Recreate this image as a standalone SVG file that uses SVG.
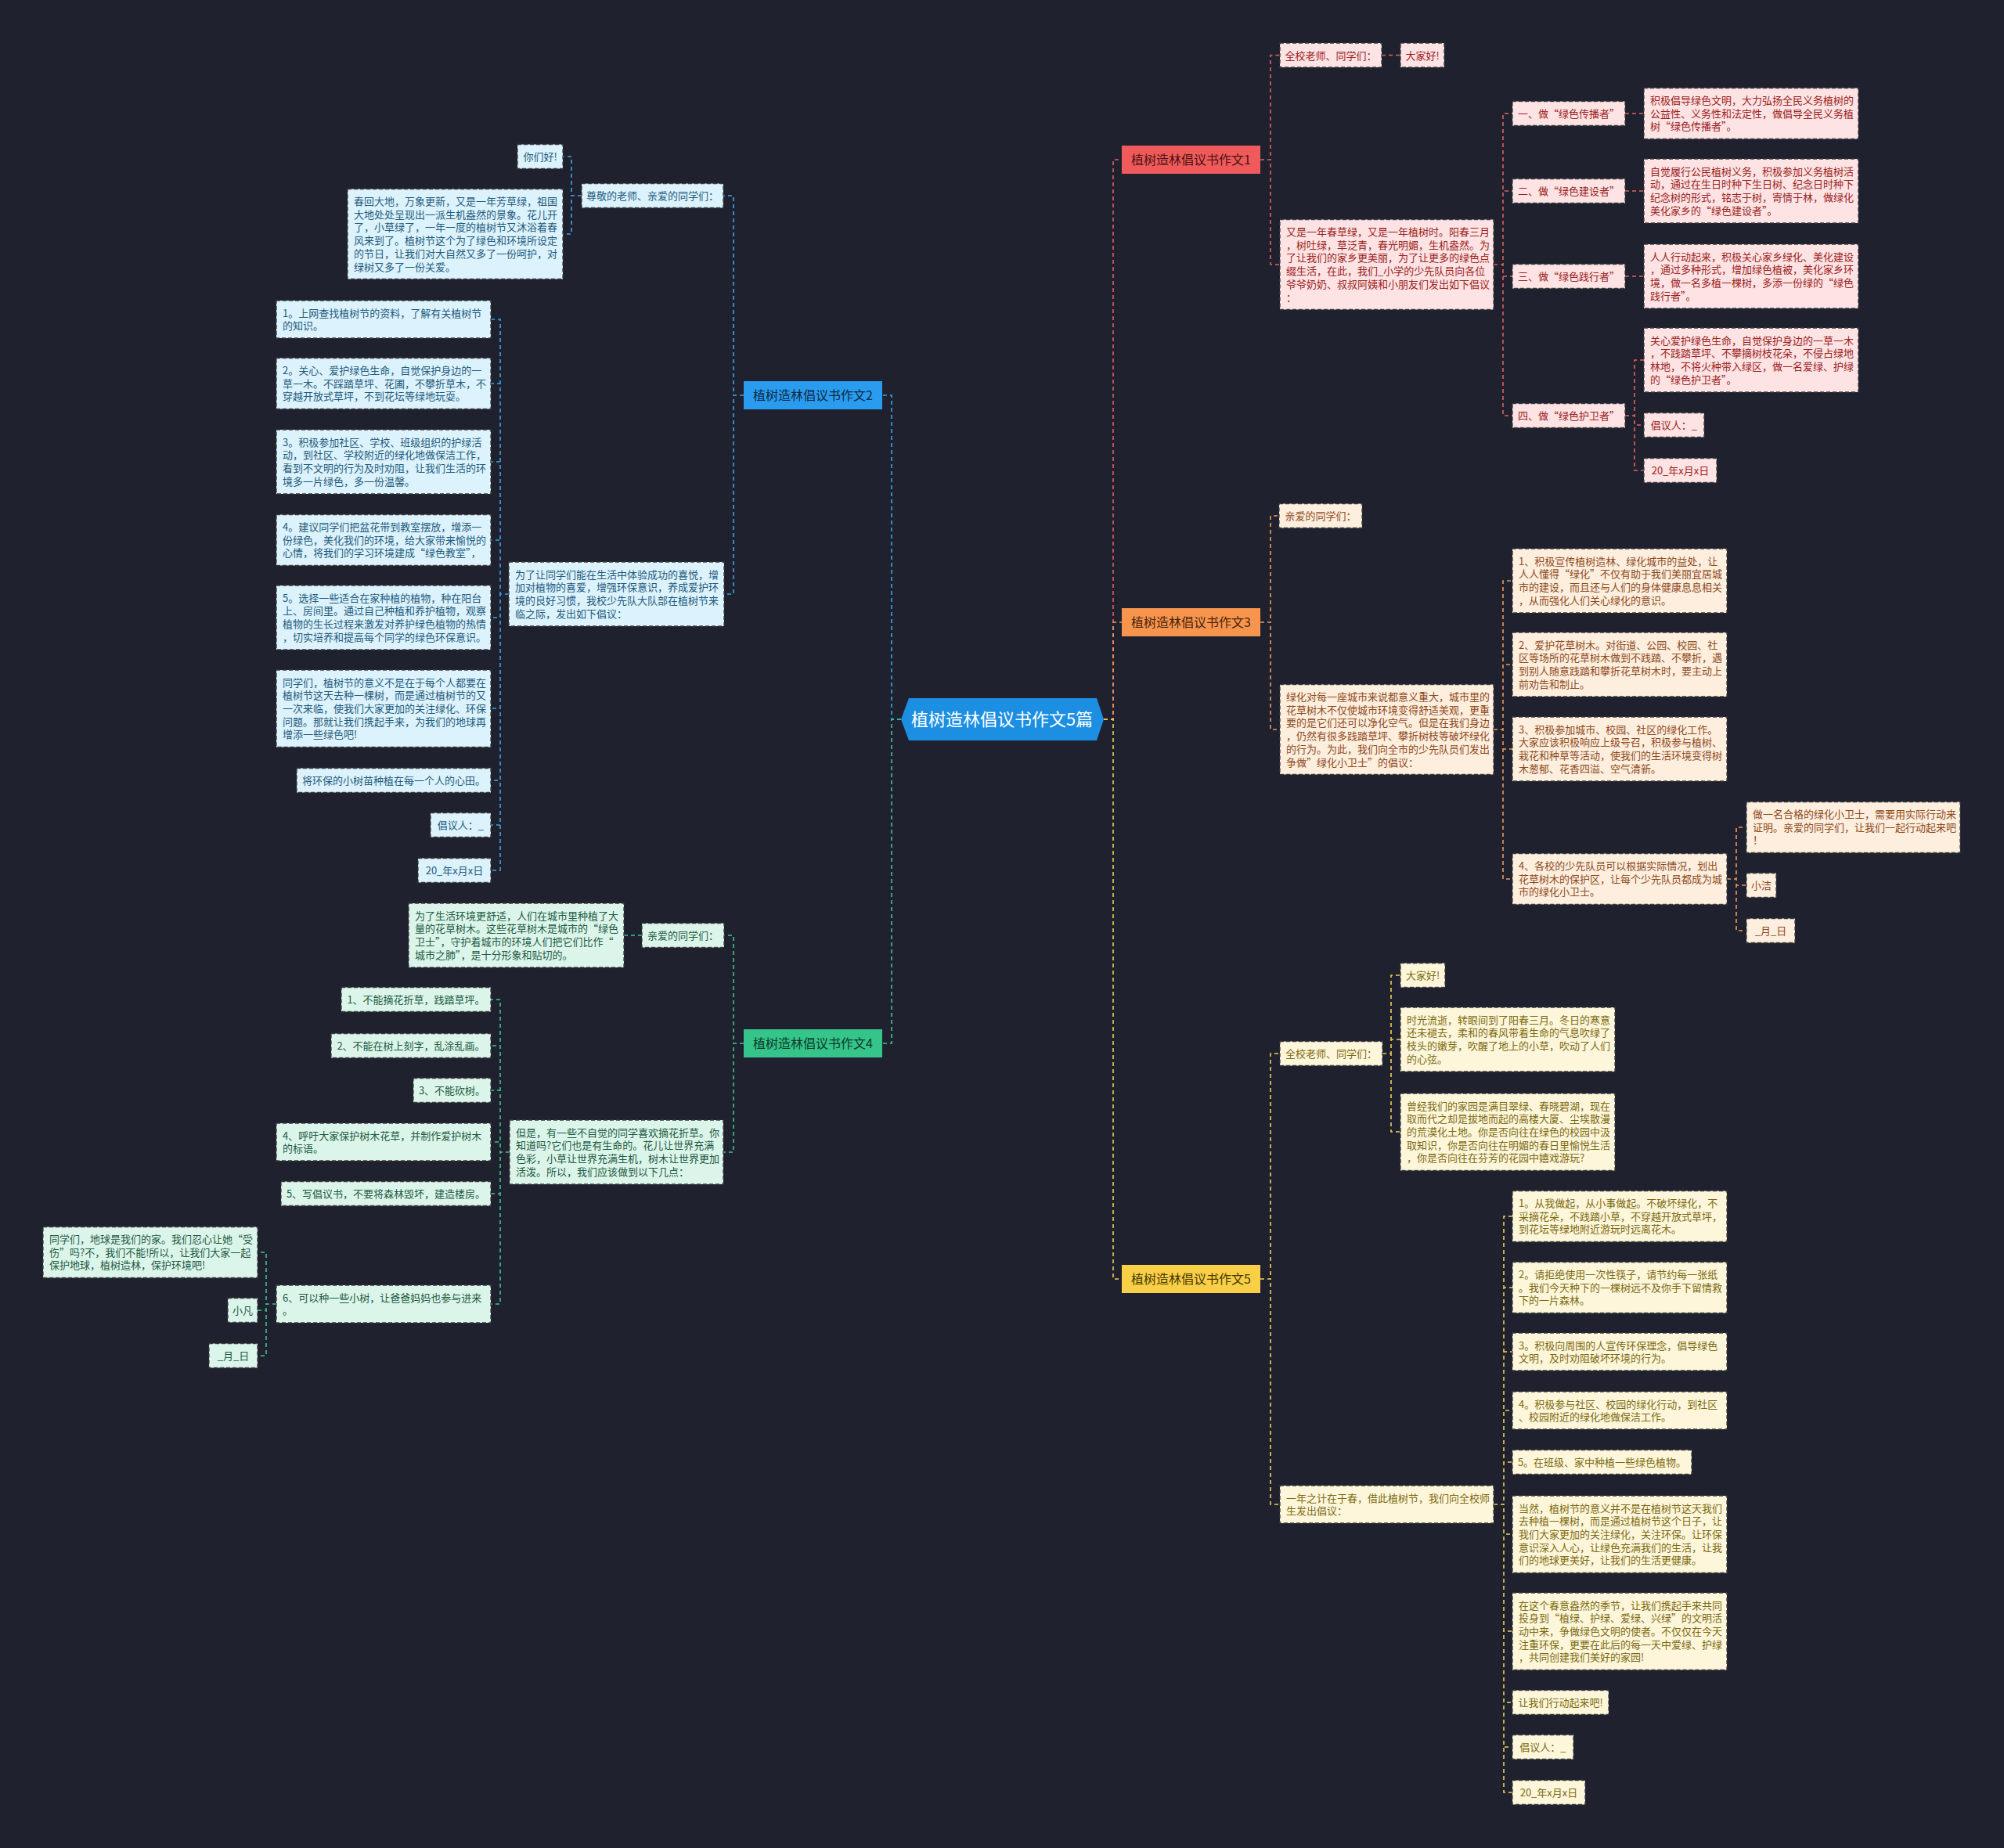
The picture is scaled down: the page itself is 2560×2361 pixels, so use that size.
<svg xmlns="http://www.w3.org/2000/svg" width="2560" height="2361" viewBox="0 0 2560 2361">
<style>
text{font-family:"Noto Sans CJK SC","Noto Sans",sans-serif;font-size:13px}
.bx{stroke:#3a3a3a;stroke-width:1.3;stroke-dasharray:5 3}
.f1{fill:#fde3e3}.t1{fill:#9b2222}
.f3{fill:#fdeede}.t3{fill:#8e4a1c}
.f5{fill:#fdf6da}.t5{fill:#7c6a12}
.f2{fill:#dcf2fc}.t2{fill:#1f5b7c}
.f4{fill:#dcf5ea}.t4{fill:#1d5a42}
.m{text-anchor:middle}
.br{font-size:16px;text-anchor:middle}
.cn path{fill:none;stroke-width:1.6;stroke-dasharray:5 4}
.c1{stroke:#e0605e}.c3{stroke:#f0985a}.c5{stroke:#f0cf55}.c2{stroke:#3ba3e6}.c4{stroke:#3cc48f}
</style>
<rect width="2560" height="2361" fill="#1f222e"/>
<g class="cn" id="connectors">
<path class="c1" d="M1410,919H1422V204H1433"/>
<path class="c1" d="M1610,204H1623V70.5H1635M1610,204H1623V338H1635M1765,70.5H1789"/>
<path class="c1" d="M1908,338H1920V145H1932M1908,338H1920V244H1932M1908,338H1920V353H1932M1908,338H1920V531H1932"/>
<path class="c1" d="M2076,145H2100M2076,244H2100M2076,353H2100M2076,531H2088V460H2100M2076,531H2088V543H2100M2076,531H2088V601H2100"/>
<path class="c3" d="M1410,919H1422V795H1433"/>
<path class="c3" d="M1610,795H1623V659H1634M1610,795H1623V932H1635"/>
<path class="c3" d="M1908,932H1920V742H1932M1908,932H1920V849H1932M1908,932H1920V957H1932M1908,932H1920V1123H1932"/>
<path class="c3" d="M2206,1123H2218V1057H2231M2206,1123H2218V1131H2231M2206,1123H2218V1189H2231"/>
<path class="c5" d="M1410,919H1422V1634H1433"/>
<path class="c5" d="M1610,1634H1623V1346H1635M1610,1634H1623V1922H1635"/>
<path class="c5" d="M1766,1346H1777V1246H1789M1766,1346H1777V1328H1789M1766,1346H1777V1446H1789"/>
<path class="c5" d="M1908,1922H1921V1554H1932M1908,1922H1921V1645H1932M1908,1922H1921V1727H1932M1908,1922H1921V1802H1932M1908,1922H1921V1868H1932M1908,1922H1921V1960H1932M1908,1922H1921V2084H1932M1908,1922H1921V2175H1932M1908,1922H1921V2232H1932M1908,1922H1921V2290H1932"/>
<path class="c2" d="M1151,919H1139V505H1127"/>
<path class="c2" d="M950,505H937V250H924M950,505H937V759H925"/>
<path class="c2" d="M743,250H730V200H719M743,250H730V299H719"/>
<path class="c2" d="M650,759H639V408H627M650,759H639V490H627M650,759H639V590H627M650,759H639V690H627M650,759H639V789H627M650,759H639V905H627M650,759H639V997H627M650,759H639V1054H627M650,759H639V1112H627"/>
<path class="c4" d="M1151,919H1139V1333H1127"/>
<path class="c4" d="M950,1333H937V1195H925M950,1333H937V1472H924M820,1195H797"/>
<path class="c4" d="M651,1472H639V1277H627M651,1472H639V1336H627M651,1472H639V1393H627M651,1472H639V1459H627M651,1472H639V1525H627M651,1472H639V1666H627"/>
<path class="c4" d="M353,1666H340V1600H329M353,1666H340V1674H329M353,1666H340V1732H329"/>
</g>

<g id="root">
<polygon points="1151,919 1161,892 1401,892 1410,919 1401,946 1161,946" fill="#1c8fe3"/>
<text x="1280" y="927" class="m" style="font-size:22px" fill="#ffffff">植树造林倡议书作文5篇</text>
</g>

<g id="b1"><rect x="1433" y="186" width="177" height="36" fill="#f05a5a"/><text x="1521.5" y="210" class="br" fill="#4a1414">植树造林倡议书作文1</text></g>
<g id="b3"><rect x="1433" y="777" width="177" height="36" fill="#f7954f"/><text x="1521.5" y="801" class="br" fill="#4a2508">植树造林倡议书作文3</text></g>
<g id="b5"><rect x="1433" y="1616" width="177" height="36" fill="#f8cf47"/><text x="1521.5" y="1640" class="br" fill="#4a3a05">植树造林倡议书作文5</text></g>
<g id="b2"><rect x="950" y="487" width="177" height="36" fill="#2a9cf0"/><text x="1038.5" y="511" class="br" fill="#0d2a45">植树造林倡议书作文2</text></g>
<g id="b4"><rect x="950" y="1315" width="177" height="36" fill="#35c48a"/><text x="1038.5" y="1339" class="br" fill="#0d3a28">植树造林倡议书作文4</text></g>

<!-- Branch 1 -->
<g id="n1a"><rect class="bx f1" x="1635" y="55" width="130" height="31"/><text class="t1 m" x="1700" y="75.5">全校老师、同学们：</text></g>
<g id="n1b"><rect class="bx f1" x="1789" y="55" width="56" height="31"/><text class="t1 m" x="1817" y="75.5">大家好!</text></g>
<g id="n1c"><rect class="bx f1" x="1635" y="280.5" width="273" height="115"/><text class="t1" y="301"><tspan x="1643">又是一年春草绿，又是一年植树时。阳春三月</tspan><tspan x="1643" dy="16.7">，树吐绿，草泛青，春光明媚，生机盎然。为</tspan><tspan x="1643" dy="16.7">了让我们的家乡更美丽，为了让更多的绿色点</tspan><tspan x="1643" dy="16.7">缀生活，在此，我们_小学的少先队员向各位</tspan><tspan x="1643" dy="16.7">爷爷奶奶、叔叔阿姨和小朋友们发出如下倡议</tspan><tspan x="1643" dy="16.7">：</tspan></text></g>
<g id="n1d"><rect class="bx f1" x="1932" y="129.5" width="144" height="31"/><text class="t1 m" x="2004" y="150">一、做“绿色传播者”</text></g>
<g id="n1e"><rect class="bx f1" x="2100" y="112.5" width="274" height="65"/><text class="t1" y="133"><tspan x="2108">积极倡导绿色文明，大力弘扬全民义务植树的</tspan><tspan x="2108" dy="16.7">公益性、义务性和法定性，做倡导全民义务植</tspan><tspan x="2108" dy="16.7">树“绿色传播者”。</tspan></text></g>
<g id="n1f"><rect class="bx f1" x="1932" y="228.5" width="144" height="31"/><text class="t1 m" x="2004" y="249">二、做“绿色建设者”</text></g>
<g id="n1g"><rect class="bx f1" x="2100" y="203" width="274" height="82"/><text class="t1" y="223.5"><tspan x="2108">自觉履行公民植树义务，积极参加义务植树活</tspan><tspan x="2108" dy="16.7">动，通过在生日时种下生日树、纪念日时种下</tspan><tspan x="2108" dy="16.7">纪念树的形式，铭志于树，寄情于林，做绿化</tspan><tspan x="2108" dy="16.7">美化家乡的“绿色建设者”。</tspan></text></g>
<g id="n1h"><rect class="bx f1" x="1932" y="337.5" width="144" height="31"/><text class="t1 m" x="2004" y="358">三、做“绿色践行者”</text></g>
<g id="n1i"><rect class="bx f1" x="2100" y="312" width="274" height="82"/><text class="t1" y="332.5"><tspan x="2108">人人行动起来，积极关心家乡绿化、美化建设</tspan><tspan x="2108" dy="16.7">，通过多种形式，增加绿色植被，美化家乡环</tspan><tspan x="2108" dy="16.7">境，做一名多植一棵树，多添一份绿的“绿色</tspan><tspan x="2108" dy="16.7">践行者”。</tspan></text></g>
<g id="n1j"><rect class="bx f1" x="1932" y="515.5" width="144" height="31"/><text class="t1 m" x="2004" y="536">四、做“绿色护卫者”</text></g>
<g id="n1k"><rect class="bx f1" x="2100" y="419" width="274" height="82"/><text class="t1" y="439.5"><tspan x="2108">关心爱护绿色生命，自觉保护身边的一草一木</tspan><tspan x="2108" dy="16.7">，不践踏草坪、不攀摘树枝花朵，不侵占绿地</tspan><tspan x="2108" dy="16.7">林地，不将火种带入绿区，做一名爱绿、护绿</tspan><tspan x="2108" dy="16.7">的“绿色护卫者”。</tspan></text></g>
<g id="n1l"><rect class="bx f1" x="2100" y="527.5" width="77" height="31"/><text class="t1 m" x="2138.5" y="548">倡议人：_</text></g>
<g id="n1m"><rect class="bx f1" x="2100" y="585.5" width="93" height="31"/><text class="t1 m" x="2146.5" y="606">20_年x月x日</text></g>

<!-- Branch 3 -->
<g id="n3a"><rect class="bx f3" x="1634" y="643.5" width="106" height="31"/><text class="t3 m" x="1687" y="664">亲爱的同学们：</text></g>
<g id="n3b"><rect class="bx f3" x="1635" y="874.5" width="273" height="115"/><text class="t3" y="895"><tspan x="1643">绿化对每一座城市来说都意义重大，城市里的</tspan><tspan x="1643" dy="16.7">花草树木不仅使城市环境变得舒适美观，更重</tspan><tspan x="1643" dy="16.7">要的是它们还可以净化空气。但是在我们身边</tspan><tspan x="1643" dy="16.7">，仍然有很多践踏草坪、攀折树枝等破坏绿化</tspan><tspan x="1643" dy="16.7">的行为。为此，我们向全市的少先队员们发出</tspan><tspan x="1643" dy="16.7">争做”绿化小卫士”的倡议：</tspan></text></g>
<g id="n3c"><rect class="bx f3" x="1932" y="701" width="274" height="82"/><text class="t3" y="721.5"><tspan x="1940">1、积极宣传植树造林、绿化城市的益处，让</tspan><tspan x="1940" dy="16.7">人人懂得“绿化”不仅有助于我们美丽宜居城</tspan><tspan x="1940" dy="16.7">市的建设，而且还与人们的身体健康息息相关</tspan><tspan x="1940" dy="16.7">，从而强化人们关心绿化的意识。</tspan></text></g>
<g id="n3d"><rect class="bx f3" x="1932" y="808" width="274" height="82"/><text class="t3" y="828.5"><tspan x="1940">2、爱护花草树木。对街道、公园、校园、社</tspan><tspan x="1940" dy="16.7">区等场所的花草树木做到不践踏、不攀折，遇</tspan><tspan x="1940" dy="16.7">到别人随意践踏和攀折花草树木时，要主动上</tspan><tspan x="1940" dy="16.7">前劝告和制止。</tspan></text></g>
<g id="n3e"><rect class="bx f3" x="1932" y="916" width="274" height="82"/><text class="t3" y="936.5"><tspan x="1940">3、积极参加城市、校园、社区的绿化工作。</tspan><tspan x="1940" dy="16.7">大家应该积极响应上级号召，积极参与植树、</tspan><tspan x="1940" dy="16.7">栽花和种草等活动，使我们的生活环境变得树</tspan><tspan x="1940" dy="16.7">木葱郁、花香四溢、空气清新。</tspan></text></g>
<g id="n3f"><rect class="bx f3" x="1932" y="1090.5" width="274" height="65"/><text class="t3" y="1111"><tspan x="1940">4、各校的少先队员可以根据实际情况，划出</tspan><tspan x="1940" dy="16.7">花草树木的保护区，让每个少先队员都成为城</tspan><tspan x="1940" dy="16.7">市的绿化小卫士。</tspan></text></g>
<g id="n3g"><rect class="bx f3" x="2231" y="1024.5" width="273" height="65"/><text class="t3" y="1045"><tspan x="2239">做一名合格的绿化小卫士，需要用实际行动来</tspan><tspan x="2239" dy="16.7">证明。亲爱的同学们，让我们一起行动起来吧</tspan><tspan x="2239" dy="16.7">！</tspan></text></g>
<g id="n3h"><rect class="bx f3" x="2231" y="1115.5" width="38" height="31"/><text class="t3 m" x="2250" y="1136">小洁</text></g>
<g id="n3i"><rect class="bx f3" x="2231" y="1173.5" width="62" height="31"/><text class="t3 m" x="2262" y="1194">_月_日</text></g>

<!-- Branch 5 -->
<g id="n5a"><rect class="bx f5" x="1635" y="1330.5" width="131" height="31"/><text class="t5 m" x="1700.5" y="1351">全校老师、同学们：</text></g>
<g id="n5b"><rect class="bx f5" x="1789" y="1230.5" width="57" height="31"/><text class="t5 m" x="1817.5" y="1251">大家好!</text></g>
<g id="n5c"><rect class="bx f5" x="1789" y="1287" width="274" height="82"/><text class="t5" y="1307.5"><tspan x="1797">时光流逝，转眼间到了阳春三月。冬日的寒意</tspan><tspan x="1797" dy="16.7">还未褪去，柔和的春风带着生命的气息吹绿了</tspan><tspan x="1797" dy="16.7">枝头的嫩芽，吹醒了地上的小草，吹动了人们</tspan><tspan x="1797" dy="16.7">的心弦。</tspan></text></g>
<g id="n5d"><rect class="bx f5" x="1789" y="1397" width="274" height="98.5"/><text class="t5" y="1417.5"><tspan x="1797">曾经我们的家园是满目翠绿、春晓碧湖，现在</tspan><tspan x="1797" dy="16.7">取而代之却是拔地而起的高楼大厦、尘埃散漫</tspan><tspan x="1797" dy="16.7">的荒漠化土地。你是否向往在绿色的校园中汲</tspan><tspan x="1797" dy="16.7">取知识，你是否向往在明媚的春日里愉悦生活</tspan><tspan x="1797" dy="16.7">，你是否向往在芬芳的花园中嬉戏游玩?</tspan></text></g>
<g id="n5e"><rect class="bx f5" x="1635" y="1898" width="273" height="48"/><text class="t5" y="1918.5"><tspan x="1643">一年之计在于春，借此植树节，我们向全校师</tspan><tspan x="1643" dy="16.7">生发出倡议：</tspan></text></g>
<g id="n5f"><rect class="bx f5" x="1932" y="1521.5" width="274" height="65"/><text class="t5" y="1542"><tspan x="1940">1。从我做起，从小事做起。不破坏绿化，不</tspan><tspan x="1940" dy="16.7">采摘花朵，不践踏小草，不穿越开放式草坪，</tspan><tspan x="1940" dy="16.7">到花坛等绿地附近游玩时远离花木。</tspan></text></g>
<g id="n5g"><rect class="bx f5" x="1932" y="1612.5" width="274" height="65"/><text class="t5" y="1633"><tspan x="1940">2。请拒绝使用一次性筷子，请节约每一张纸</tspan><tspan x="1940" dy="16.7">。我们今天种下的一棵树远不及你手下留情救</tspan><tspan x="1940" dy="16.7">下的一片森林。</tspan></text></g>
<g id="n5h"><rect class="bx f5" x="1932" y="1703" width="274" height="48"/><text class="t5" y="1723.5"><tspan x="1940">3。积极向周围的人宣传环保理念，倡导绿色</tspan><tspan x="1940" dy="16.7">文明，及时劝阻破坏环境的行为。</tspan></text></g>
<g id="n5i"><rect class="bx f5" x="1932" y="1778" width="274" height="48"/><text class="t5" y="1798.5"><tspan x="1940">4。积极参与社区、校园的绿化行动，到社区</tspan><tspan x="1940" dy="16.7">、校园附近的绿化地做保洁工作。</tspan></text></g>
<g id="n5j"><rect class="bx f5" x="1932" y="1852.5" width="229" height="31"/><text class="t5 m" x="2046.5" y="1873">5。在班级、家中种植一些绿色植物。</text></g>
<g id="n5k"><rect class="bx f5" x="1932" y="1911" width="274" height="98.5"/><text class="t5" y="1931.5"><tspan x="1940">当然，植树节的意义并不是在植树节这天我们</tspan><tspan x="1940" dy="16.7">去种植一棵树，而是通过植树节这个日子，让</tspan><tspan x="1940" dy="16.7">我们大家更加的关注绿化，关注环保。让环保</tspan><tspan x="1940" dy="16.7">意识深入人心，让绿色充满我们的生活，让我</tspan><tspan x="1940" dy="16.7">们的地球更美好，让我们的生活更健康。</tspan></text></g>
<g id="n5l"><rect class="bx f5" x="1932" y="2035" width="274" height="98.5"/><text class="t5" y="2055.5"><tspan x="1940">在这个春意盎然的季节，让我们携起手来共同</tspan><tspan x="1940" dy="16.7">投身到“植绿、护绿、爱绿、兴绿”的文明活</tspan><tspan x="1940" dy="16.7">动中来，争做绿色文明的使者。不仅仅在今天</tspan><tspan x="1940" dy="16.7">注重环保，更要在此后的每一天中爱绿、护绿</tspan><tspan x="1940" dy="16.7">，共同创建我们美好的家园!</tspan></text></g>
<g id="n5m"><rect class="bx f5" x="1932" y="2159.5" width="123" height="31"/><text class="t5 m" x="1993.5" y="2180">让我们行动起来吧!</text></g>
<g id="n5n"><rect class="bx f5" x="1932" y="2216.5" width="78" height="31"/><text class="t5 m" x="1971" y="2237">倡议人：_</text></g>
<g id="n5o"><rect class="bx f5" x="1932" y="2274.5" width="93" height="31"/><text class="t5 m" x="1978.5" y="2295">20_年x月x日</text></g>

<!-- Branch 2 -->
<g id="n2a"><rect class="bx f2" x="743" y="234.5" width="181" height="31"/><text class="t2 m" x="833.5" y="255">尊敬的老师、亲爱的同学们：</text></g>
<g id="n2b"><rect class="bx f2" x="661" y="184.5" width="58" height="31"/><text class="t2 m" x="690" y="205">你们好!</text></g>
<g id="n2c"><rect class="bx f2" x="444" y="241.5" width="275" height="115"/><text class="t2" y="262"><tspan x="452">春回大地，万象更新，又是一年芳草绿，祖国</tspan><tspan x="452" dy="16.7">大地处处呈现出一派生机盎然的景象。花儿开</tspan><tspan x="452" dy="16.7">了，小草绿了，一年一度的植树节又沐浴着春</tspan><tspan x="452" dy="16.7">风来到了。植树节这个为了绿色和环境所设定</tspan><tspan x="452" dy="16.7">的节日，让我们对大自然又多了一份呵护，对</tspan><tspan x="452" dy="16.7">绿树又多了一份关爱。</tspan></text></g>
<g id="n2d"><rect class="bx f2" x="650" y="718" width="275" height="82"/><text class="t2" y="738.5"><tspan x="658">为了让同学们能在生活中体验成功的喜悦，增</tspan><tspan x="658" dy="16.7">加对植物的喜爱，增强环保意识，养成爱护环</tspan><tspan x="658" dy="16.7">境的良好习惯，我校少先队大队部在植树节来</tspan><tspan x="658" dy="16.7">临之际，发出如下倡议：</tspan></text></g>
<g id="n2e"><rect class="bx f2" x="353" y="384" width="274" height="48"/><text class="t2" y="404.5"><tspan x="361">1。上网查找植树节的资料，了解有关植树节</tspan><tspan x="361" dy="16.7">的知识。</tspan></text></g>
<g id="n2f"><rect class="bx f2" x="353" y="457.5" width="274" height="65"/><text class="t2" y="478"><tspan x="361">2。关心、爱护绿色生命，自觉保护身边的一</tspan><tspan x="361" dy="16.7">草一木。不踩踏草坪、花圃，不攀折草木，不</tspan><tspan x="361" dy="16.7">穿越开放式草坪，不到花坛等绿地玩耍。</tspan></text></g>
<g id="n2g"><rect class="bx f2" x="353" y="549" width="274" height="82"/><text class="t2" y="569.5"><tspan x="361">3。积极参加社区、学校、班级组织的护绿活</tspan><tspan x="361" dy="16.7">动，到社区、学校附近的绿化地做保洁工作，</tspan><tspan x="361" dy="16.7">看到不文明的行为及时劝阻，让我们生活的环</tspan><tspan x="361" dy="16.7">境多一片绿色，多一份温馨。</tspan></text></g>
<g id="n2h"><rect class="bx f2" x="353" y="657.5" width="274" height="65"/><text class="t2" y="678"><tspan x="361">4。建议同学们把盆花带到教室摆放，增添一</tspan><tspan x="361" dy="16.7">份绿色，美化我们的环境，给大家带来愉悦的</tspan><tspan x="361" dy="16.7">心情，将我们的学习环境建成“绿色教室”，</tspan></text></g>
<g id="n2i"><rect class="bx f2" x="353" y="748" width="274" height="82"/><text class="t2" y="768.5"><tspan x="361">5。选择一些适合在家种植的植物，种在阳台</tspan><tspan x="361" dy="16.7">上、房间里。通过自己种植和养护植物，观察</tspan><tspan x="361" dy="16.7">植物的生长过程来激发对养护绿色植物的热情</tspan><tspan x="361" dy="16.7">，切实培养和提高每个同学的绿色环保意识。</tspan></text></g>
<g id="n2j"><rect class="bx f2" x="353" y="856" width="274" height="98.5"/><text class="t2" y="876.5"><tspan x="361">同学们，植树节的意义不是在于每个人都要在</tspan><tspan x="361" dy="16.7">植树节这天去种一棵树，而是通过植树节的又</tspan><tspan x="361" dy="16.7">一次来临，使我们大家更加的关注绿化、环保</tspan><tspan x="361" dy="16.7">问题。那就让我们携起手来，为我们的地球再</tspan><tspan x="361" dy="16.7">增添一些绿色吧!</tspan></text></g>
<g id="n2k"><rect class="bx f2" x="379" y="981.5" width="248" height="31"/><text class="t2 m" x="503" y="1002">将环保的小树苗种植在每一个人的心田。</text></g>
<g id="n2l"><rect class="bx f2" x="550" y="1038.5" width="77" height="31"/><text class="t2 m" x="588.5" y="1059">倡议人：_</text></g>
<g id="n2m"><rect class="bx f2" x="534" y="1096.5" width="93" height="31"/><text class="t2 m" x="580.5" y="1117">20_年x月x日</text></g>

<!-- Branch 4 -->
<g id="n4a"><rect class="bx f4" x="820" y="1179.5" width="105" height="31"/><text class="t4 m" x="872.5" y="1200">亲爱的同学们：</text></g>
<g id="n4b"><rect class="bx f4" x="522" y="1154" width="275" height="82"/><text class="t4" y="1174.5"><tspan x="530">为了生活环境更舒适，人们在城市里种植了大</tspan><tspan x="530" dy="16.7">量的花草树木。这些花草树木是城市的“绿色</tspan><tspan x="530" dy="16.7">卫士”，守护着城市的环境人们把它们比作“</tspan><tspan x="530" dy="16.7">城市之肺”，是十分形象和贴切的。</tspan></text></g>
<g id="n4c"><rect class="bx f4" x="651" y="1431" width="273" height="82"/><text class="t4" y="1451.5"><tspan x="659">但是，有一些不自觉的同学喜欢摘花折草。你</tspan><tspan x="659" dy="16.7">知道吗?它们也是有生命的。花儿让世界充满</tspan><tspan x="659" dy="16.7">色彩，小草让世界充满生机，树木让世界更加</tspan><tspan x="659" dy="16.7">活泼。所以，我们应该做到以下几点：</tspan></text></g>
<g id="n4d"><rect class="bx f4" x="436" y="1261.5" width="191" height="31"/><text class="t4 m" x="531.5" y="1282">1、不能摘花折草，践踏草坪。</text></g>
<g id="n4e"><rect class="bx f4" x="423" y="1320.5" width="204" height="31"/><text class="t4 m" x="525" y="1341">2、不能在树上刻字，乱涂乱画。</text></g>
<g id="n4f"><rect class="bx f4" x="528" y="1377.5" width="99" height="31"/><text class="t4 m" x="577.5" y="1398">3、不能砍树。</text></g>
<g id="n4g"><rect class="bx f4" x="353" y="1435" width="274" height="48"/><text class="t4" y="1455.5"><tspan x="361">4、呼吁大家保护树木花草，并制作爱护树木</tspan><tspan x="361" dy="16.7">的标语。</tspan></text></g>
<g id="n4h"><rect class="bx f4" x="359" y="1509.5" width="268" height="31"/><text class="t4 m" x="493" y="1530">5、写倡议书，不要将森林毁坏，建造楼房。</text></g>
<g id="n4i"><rect class="bx f4" x="353" y="1642" width="274" height="48"/><text class="t4" y="1662.5"><tspan x="361">6、可以种一些小树，让爸爸妈妈也参与进来</tspan><tspan x="361" dy="16.7">。</tspan></text></g>
<g id="n4j"><rect class="bx f4" x="55" y="1567.5" width="274" height="65"/><text class="t4" y="1588"><tspan x="63">同学们，地球是我们的家。我们忍心让她“受</tspan><tspan x="63" dy="16.7">伤”吗?不，我们不能!所以，让我们大家一起</tspan><tspan x="63" dy="16.7">保护地球，植树造林，保护环境吧!</tspan></text></g>
<g id="n4k"><rect class="bx f4" x="291" y="1658.5" width="38" height="31"/><text class="t4 m" x="310" y="1679">小凡</text></g>
<g id="n4l"><rect class="bx f4" x="267" y="1716.5" width="62" height="31"/><text class="t4 m" x="298" y="1737">_月_日</text></g>
</svg>
